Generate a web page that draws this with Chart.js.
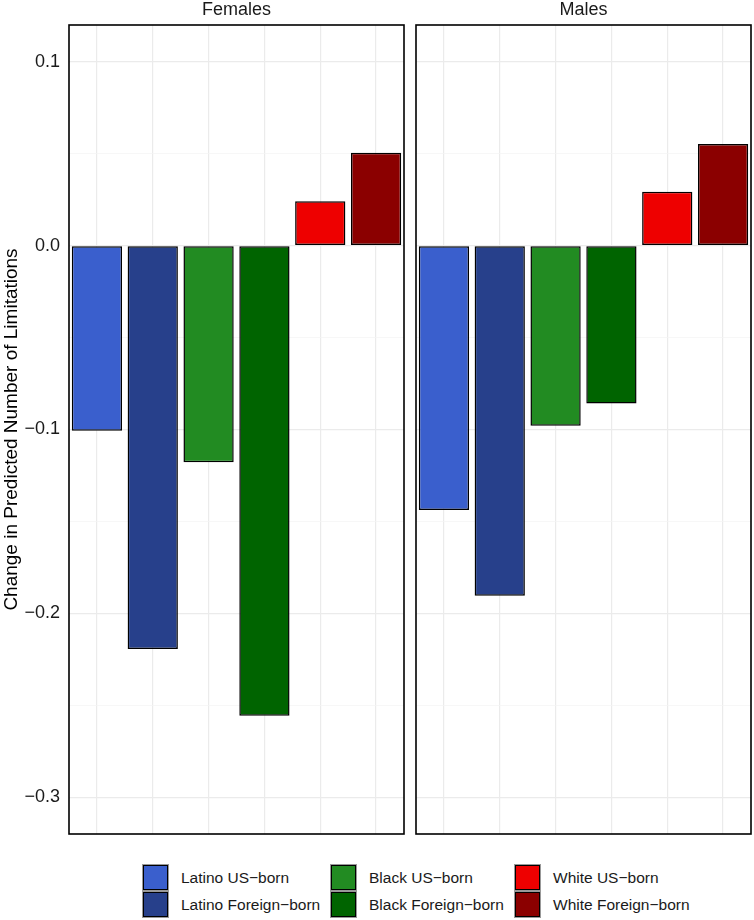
<!DOCTYPE html>
<html>
<head>
<meta charset="utf-8">
<script src="https://cdn.jsdelivr.net/npm/chart.js@4"></script>
<style>
  body { margin: 0; background: #fff; font-family: "Liberation Sans", Arial, sans-serif; }
  #wrap { position: relative; width: 754px; height: 920px; }
  #c1 { position: absolute; left: 0; top: 0; }
  #c2 { position: absolute; left: 404px; top: 0; }
  #legend { position: absolute; left: 0; top: 865px; width: 754px; font-size: 15.5px; color: #1a1a1a; }
  .key { position: absolute; width: 23px; height: 23px; border: 1px solid #000; box-shadow: 0 0 0 1px #999; }
  .lab { position: absolute; line-height: 26px; white-space: nowrap; }
</style>
</head>
<body>
<div id="wrap">
  <canvas id="c1"></canvas>
  <canvas id="c2"></canvas>
  <div id="legend"></div>
</div>
<script>
// data
var groups = ["Latino US\u2212born", "Latino Foreign\u2212born", "Black US\u2212born", "Black Foreign\u2212born", "White US\u2212born", "White Foreign\u2212born"];
var colors = ["#3A5FCD", "#27408B", "#228B22", "#006400", "#EE0000", "#8B0000"];
var females = [-0.1007, -0.2194, -0.1178, -0.2557, 0.0241, 0.0505];
var males = [-0.1438, -0.1904, -0.0980, -0.0859, 0.0293, 0.0553];
var panels = ["Females", "Males"];
var yTickValues = [-0.3, -0.25, -0.2, -0.15, -0.1, -0.05, 0, 0.05, 0.1];
var yMajor = [-0.3, -0.2, -0.1, 0, 0.1];
var yTitle = "Change in Predicted Number of Limitations";

var FONT = "'Liberation Sans', Arial, sans-serif";

function isMajor(v) {
  return yMajor.some(function (m) { return Math.abs(m - v) < 1e-9; });
}

// panel border + strip label
var panelPlugin = {
  id: 'panel',
  afterDraw: function (chart, args, opts) {
    var a = chart.chartArea, ctx = chart.ctx;
    ctx.save();
    ctx.strokeStyle = '#000';
    ctx.lineWidth = 1.6;
    ctx.strokeRect(a.left, a.top, a.right - a.left, a.bottom - a.top);
    ctx.fillStyle = '#1a1a1a';
    ctx.font = '18px ' + FONT;
    ctx.textAlign = 'center';
    ctx.textBaseline = 'middle';
    ctx.fillText(opts.label, (a.left + a.right) / 2, 10);
    ctx.restore();
  }
};

function makeChart(id, values, label, first, w) {
  var cv = document.getElementById(id);
  cv.width = w; cv.height = 840;
  cv.style.width = w + 'px'; cv.style.height = '840px';
  return new Chart(cv, {
    type: 'bar',
    data: {
      labels: groups,
      datasets: [{
        data: values,
        backgroundColor: colors,
        borderColor: '#000',
        borderWidth: 1.5,
        borderSkipped: false,
        barPercentage: 0.9,
        categoryPercentage: 1.0
      }]
    },
    options: {
      responsive: false,
      animation: false,
      layout: { padding: { top: 25, bottom: 6, left: first ? 0 : 12, right: first ? 2 : 3 } },
      plugins: {
        legend: { display: false },
        tooltip: { enabled: false },
        panel: { label: label }
      },
      scales: {
        x: {
          offset: true,
          grid: { offset: false, color: '#ebebeb', lineWidth: 1.2, drawTicks: false },
          border: { display: false },
          ticks: { display: false },
          afterFit: function (s) { s.height = 0; }
        },
        y: {
          min: -0.32,
          max: 0.12,
          afterBuildTicks: function (s) {
            s.ticks = yTickValues.map(function (v) { return { value: v }; });
          },
          grid: {
            drawTicks: false,
            color: function (c) { return isMajor(c.tick.value) ? '#ebebeb' : '#f3f3f3'; },
            lineWidth: function (c) { return isMajor(c.tick.value) ? 1.2 : 0.7; }
          },
          border: { display: false },
          ticks: {
            display: first,
            padding: 9,
            color: '#1a1a1a',
            font: { family: FONT, size: 18 },
            callback: function (v) {
              if (!isMajor(v)) return '';
              return v.toFixed(1).replace('-', '\u2212');
            }
          },
          title: {
            display: first,
            text: yTitle,
            color: '#000',
            font: { family: FONT, size: 19 },
            padding: { top: 0, bottom: 0 }
          },
          afterFit: function (s) {
            s.width = first ? 69 : 0;
            s.paddingTop = 0;
            s.paddingBottom = 0;
          }
        }
      }
    },
    plugins: [panelPlugin]
  });
}

makeChart('c1', females, panels[0], true, 406);
makeChart('c2', males, panels[1], false, 350);

// legend, 3 columns x 2 rows, filled column by column
var keyX = [143, 331, 515];
var textX = [181, 369, 553];
var legend = document.getElementById('legend');
groups.forEach(function (g, i) {
  var col = Math.floor(i / 2), row = i % 2;
  var k = document.createElement('div');
  k.className = 'key';
  k.style.left = keyX[col] + 'px';
  k.style.top = (row * 27) + 'px';
  k.style.background = colors[i];
  legend.appendChild(k);
  var t = document.createElement('div');
  t.className = 'lab';
  t.style.left = textX[col] + 'px';
  t.style.top = (row * 27) + 'px';
  t.textContent = g;
  legend.appendChild(t);
});
</script>
</body>
</html>
